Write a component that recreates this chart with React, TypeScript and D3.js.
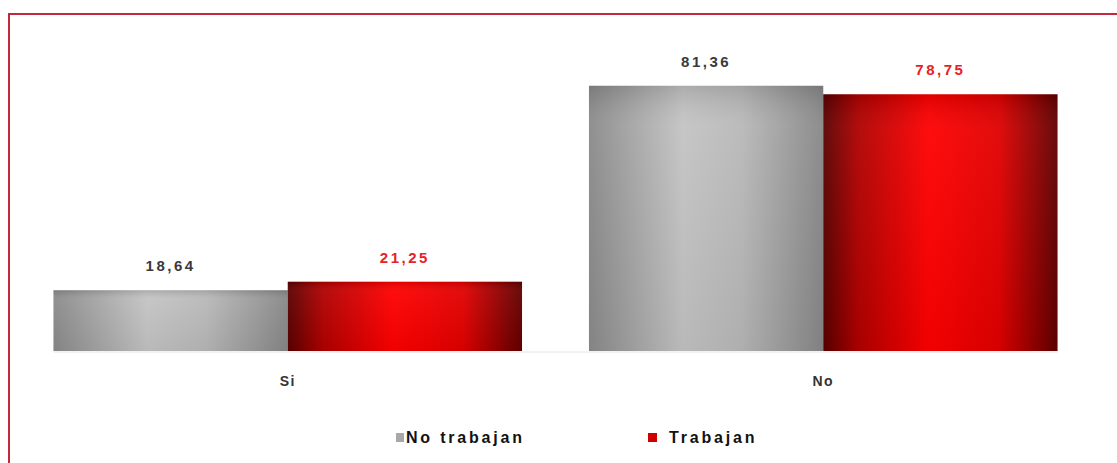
import React from "react";
import * as d3 from "d3";

const categories = ["Si", "No"];
const seriesNames = ["No trabajan", "Trabajan"];
const noTrabajan = [18.64, 81.36];
const trabajan = [21.25, 78.75];
const valueLabels = [["18,64", "81,36"], ["21,25", "78,75"]];

const W = 1117;
const H = 463;

export default function App() {
  const x = d3.scaleBand<string>().domain(categories).range([20, 1091]).paddingInner(0.125).paddingOuter(0.0625);
  const xs = d3.scaleBand<string>().domain(seriesNames).range([0, x.bandwidth()]);
  const y = d3.scaleLinear().domain([0, 100]).range([351, 25]);
  const series = [noTrabajan, trabajan];
  const fills = ["url(#gGray)", "url(#gRed)"];
  const labelColors = ["#3a3a3a", "#e8202a"];
  const font = "'Liberation Sans', Arial, sans-serif";

  return (
    <svg width={W} height={H} style={{ position: "absolute", left: 0, top: 0, background: "#fff" }} fontFamily={font}>
      <defs>
        <linearGradient id="gGray" x1="0" x2="1" y1="0" y2="0">
          <stop offset="0%" stopColor="#8a8a8a" />
          <stop offset="40%" stopColor="#c3c3c3" />
          <stop offset="65%" stopColor="#b8b8b8" />
          <stop offset="100%" stopColor="#878787" />
        </linearGradient>
        <linearGradient id="gRed" x1="0" x2="1" y1="0" y2="0">
          <stop offset="0%" stopColor="#5a0000" />
          <stop offset="15%" stopColor="#b00000" />
          <stop offset="45%" stopColor="#ff0000" />
          <stop offset="75%" stopColor="#e00000" />
          <stop offset="100%" stopColor="#600000" />
        </linearGradient>
        <linearGradient id="gShade" x1="0" x2="0" y1="0" y2="1">
          <stop offset="0%" stopColor="#000" stopOpacity="0.12" />
          <stop offset="15%" stopColor="#fff" stopOpacity="0.05" />
          <stop offset="100%" stopColor="#000" stopOpacity="0.05" />
        </linearGradient>
      </defs>
      <rect x={0} y={0} width={W} height={H} fill="#fff" />
      <path d={`M9,${H + 5} L9,14 L${W + 5},14`} fill="none" stroke="#c2283e" strokeWidth={2} />
      <line x1={x("Si")!} x2={x("No")! + x.bandwidth()} y1={y(0) + 1} y2={y(0) + 1} stroke="#e4e4e4" strokeWidth={1} />
      {categories.map((c, ci) => (
        <g key={c}>
          {seriesNames.map((s, si) => {
            const v = series[si][ci];
            const bx = x(c)! + xs(s)!;
            return (
              <g key={s}>
                <rect x={bx} y={y(v)} width={xs.bandwidth()} height={y(0) - y(v)} fill={fills[si]} />
                <rect x={bx} y={y(v)} width={xs.bandwidth()} height={y(0) - y(v)} fill="url(#gShade)" />
                <text x={bx + xs.bandwidth() / 2} y={y(v) - 19} textAnchor="middle" fontSize={15} fontWeight="bold" letterSpacing={2.5} fill={labelColors[si]}>
                  {valueLabels[si][ci]}
                </text>
              </g>
            );
          })}
          <text x={x(c)! + x.bandwidth() / 2} y={386} textAnchor="middle" fontSize={14} fontWeight="bold" letterSpacing={1.5} fill="#333">
            {c}
          </text>
        </g>
      ))}
      <g>
        <rect x={396} y={433} width={8} height={9} fill="#a8a8a8" />
        <text x={406} y={443} fontSize={16} fontWeight="bold" letterSpacing={2.8} fill="#111">{seriesNames[0]}</text>
        <rect x={648} y={433} width={9} height={9} fill="#d00000" />
        <text x={669} y={443} fontSize={16} fontWeight="bold" letterSpacing={2.8} fill="#111">{seriesNames[1]}</text>
      </g>
    </svg>
  );
}
